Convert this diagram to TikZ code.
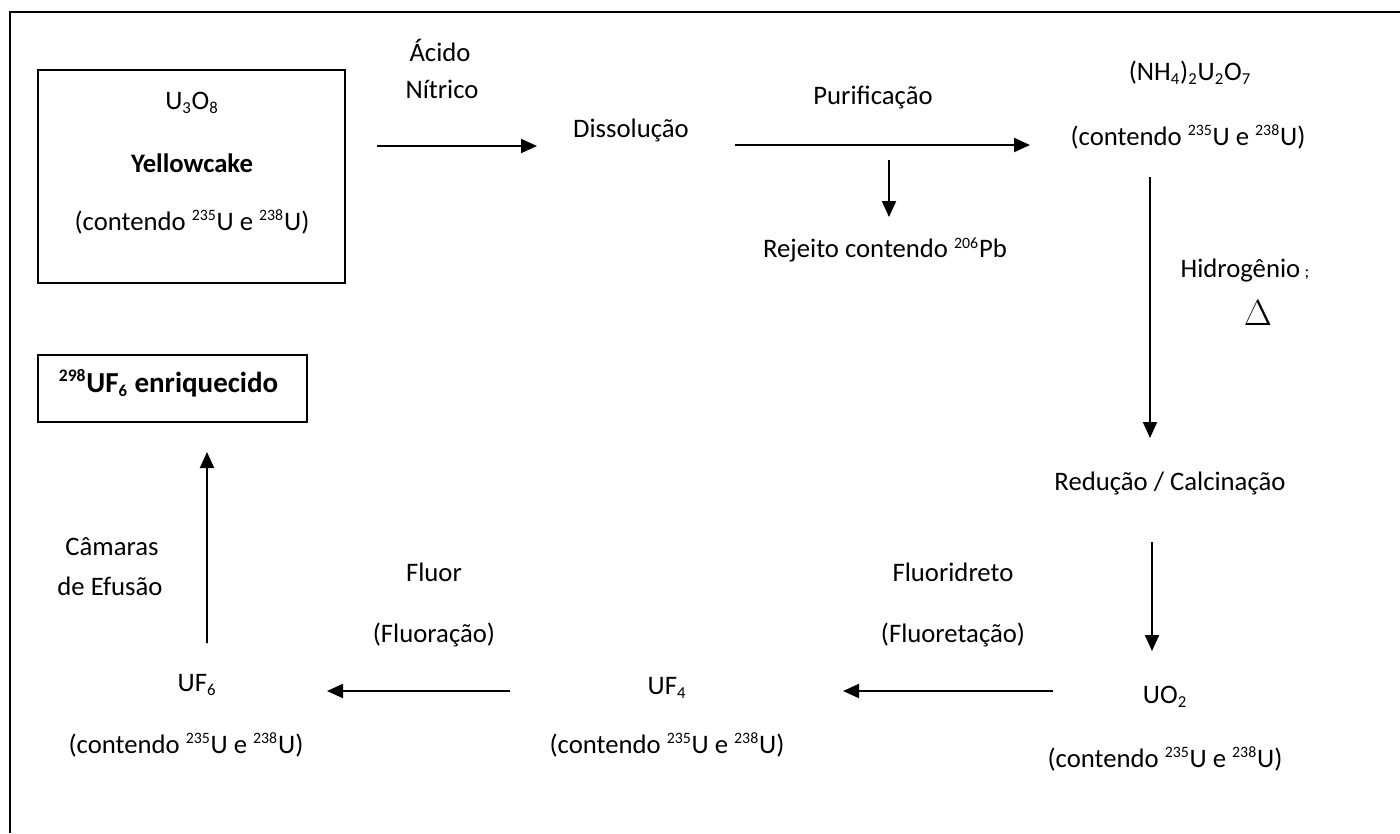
\documentclass[tikz,border=0pt]{standalone}
\usepackage{fontspec}
\setmainfont{Carlito}
\usetikzlibrary{arrows.meta,positioning,calc}
\newcommand{\sps}[1]{\textsuperscript{\fontsize{9}{10}\selectfont #1}}
\newcommand{\sbs}[1]{\textsubscript{\fontsize{9.5}{10}\selectfont #1}}
\newcommand{\contendo}{(contendo \sps{235}U e \sps{238}U)}

\begin{document}
\begin{tikzpicture}[x=0.02cm, y=-0.02cm,
  every node/.style={font=\fontsize{15.2}{18}\selectfont, inner sep=2pt},
  boxed/.style={draw, line width=1.6pt},
  arr/.style={-{Triangle[length=0.32cm, width=0.28cm]}, line width=1.1pt}
]
  \useasboundingbox (0,0) rectangle (1400,833);
  % Frame
  \draw[line width=1.1pt] (10,833) -- (10,12) -- (1400,12);

  % Yellowcake box
  \node[boxed, minimum width=6.14cm, minimum height=4.26cm] (yc) at (191.5,176.5) {};
  \node (u3o8) at (192,103) {U\sbs{3}O\sbs{8}};
  \node[font=\fontsize{15.2}{18}\selectfont\bfseries] (ycname) at (192,163) {Yellowcake};

  % Enriched box
  \node[boxed, minimum width=5.38cm, minimum height=1.34cm] (enr) at (172.5,388.5) {};
  \node[anchor=west, font=\fontsize{16.5}{19}\selectfont\bfseries] (enrname) at (55,383)
    {\textsuperscript{\fontsize{10}{11}\selectfont 298}UF\sbs{6} enriquecido};

  % Products
  \foreach \n/\x/\y in {ycc/192/222, nhc/1188/137, uoc/1165/759, ufqc/667/745, ufc/186/745} {
    \node (\n) at (\x,\y) {\contendo};
  }
  \node (diss) at (631,130) {Dissolução};
  \node (rej) at (885,250) {Rejeito contendo \sps{206}Pb};
  \node (nh) at (1190,73) {(NH\sbs{4})\sbs{2}U\sbs{2}O\sbs{7}};
  \node (red) at (1170,483) {Redução / Calcinação};
  \node (uo) at (1165,697) {UO\sbs{2}};
  \node (ufq) at (667,688) {UF\sbs{4}};
  \node (uf) at (197,685) {UF\sbs{6}};

  % Reagents
  \node (acido) at (440,50) {Ácido};
  \node (nitrico) at (442,89) {Nítrico};
  \node (purif) at (873,98) {Purificação};
  \node (hid) at (1245,271) {Hidrogênio\,{\fontsize{10}{12}\selectfont;}};
  \node[font=\fontsize{21}{24}\selectfont] (delta) at (1258,313) {$\Delta$};
  \node (fhid) at (953,572) {Fluoridreto};
  \node (fhidc) at (953,635) {(Fluoretação)};
  \node (fluor) at (434,572) {Fluor};
  \node (fluorac) at (434,635) {(Fluoração)};
  \node (cam) at (112,547) {Câmaras};
  \node (efu) at (110,586) {de Efusão};

  % Connections
  \draw[arr] ($(yc)+(185.5,-30.5)$) -- ($(diss)+(-94,16)$);
  \draw[arr] ($(diss)+(104,15)$) -- ($(nhc)+(-158,8)$);
  \draw[arr] ($(purif)+(16,62)$) -- ($(rej)+(4,-33)$);
  \draw[arr] ($(nhc)+(-38,40)$) -- ($(red)+(-20,-45)$);
  \draw[arr] ($(red)+(-18,59)$) -- ($(uo)+(-13,-46)$);
  \draw[arr] ($(uo)+(-112,-6)$) -- ($(ufq)+(176,3)$);
  \draw[arr] ($(ufq)+(-157,3)$) -- ($(uf)+(130,6)$);
  \draw[arr] ($(uf)+(10,-42)$) -- ($(enr)+(34.5,63.5)$);
\end{tikzpicture}
\end{document}
